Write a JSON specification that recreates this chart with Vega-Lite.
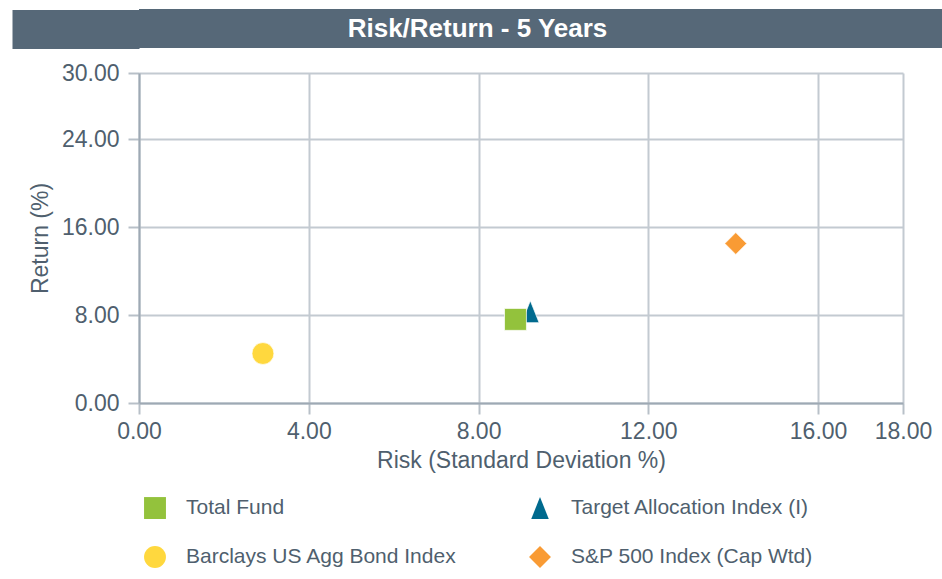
{
  "$schema": "https://vega.github.io/schema/vega-lite/v6.json",
  "background": "white",
  "padding": {"left": -8, "top": 9, "right": 0, "bottom": 0},
  "spacing": 13,
  "config": {
    "font": "Liberation Sans",
    "view": {"stroke": null}
  },
  "vconcat": [
    {
      "width": 803,
      "height": 39,
      "view": {"fill": "#566878", "stroke": null},
      "data": {"values": [{"title": "Risk/Return - 5 Years"}]},
      "mark": {"type": "text", "color": "white", "fontWeight": "bold", "fontSize": 26, "font": "Liberation Sans", "baseline": "middle", "align": "center", "dx": -63},
      "encoding": {
        "text": {"field": "title", "type": "nominal"},
        "y": {
          "field": "title", "type": "nominal",
          "scale": {"paddingInner": 0, "paddingOuter": 0},
          "axis": {"title": null, "labels": false, "domain": false, "ticks": true, "tickSize": 127, "tickWidth": 39, "tickColor": "#566878", "tickCap": "butt", "grid": false}
        }
      }
    },
    {
      "width": 764,
      "height": 330,
      "data": {
        "values": [
          {"name": "Target Allocation Index (I)", "risk": 9.22, "return": 8.3},
          {"name": "Total Fund", "risk": 8.87, "return": 7.6},
          {"name": "Barclays US Agg Bond Index", "risk": 2.92, "return": 4.5},
          {"name": "S&P 500 Index (Cap Wtd)", "risk": 14.06, "return": 14.5}
        ]
      },
      "mark": {"type": "point", "filled": true, "opacity": 1, "size": 480, "stroke": "white", "strokeWidth": 1, "strokeOpacity": 0.7},
      "encoding": {
        "x": {
          "field": "risk", "type": "quantitative",
          "scale": {"domain": [0, 18], "nice": false},
          "axis": {
            "values": [0, 4, 8, 12, 16, 18], "format": ".2f", "labelOverlap": false, "labelFlush": false,
            "title": "Risk (Standard Deviation %)",
            "titleFontSize": 23, "titleFontWeight": "normal", "titleColor": "#4f5f6e", "titlePadding": 6,
            "labelFontSize": 23, "labelColor": "#4f5f6e", "labelPadding": 6,
            "tickSize": 11, "tickColor": "#b8c0c8", "tickWidth": 2,
            "domainColor": "#9ea9b4", "domainWidth": 2,
            "gridColor": "#c3cad1", "gridWidth": 2
          }
        },
        "y": {
          "field": "return", "type": "quantitative",
          "scale": {"domain": [0, 30], "nice": false},
          "axis": {
            "values": [0, 8, 16, 24, 30], "format": ".2f", "labelOverlap": false, "labelFlush": false,
            "title": "Return (%)",
            "titleFontSize": 23, "titleFontWeight": "normal", "titleColor": "#4f5f6e", "titlePadding": 9,
            "labelFontSize": 23, "labelColor": "#4f5f6e", "labelPadding": 9,
            "tickSize": 11, "tickColor": "#b8c0c8", "tickWidth": 2,
            "domainColor": "#9ea9b4", "domainWidth": 2,
            "gridColor": "#c3cad1", "gridWidth": 2
          }
        },
        "color": {
          "field": "name", "type": "nominal",
          "scale": {
            "domain": ["Total Fund", "Target Allocation Index (I)", "Barclays US Agg Bond Index", "S&P 500 Index (Cap Wtd)"],
            "range": ["#93c23c", "#006a8e", "#ffd83e", "#f99b34"]
          },
          "legend": {
            "title": null, "orient": "bottom", "direction": "horizontal", "columns": 2,
            "labelFontSize": 21, "labelColor": "#4f5f6e", "labelOffset": 20, "labelLimit": 400,
            "symbolSize": 480, "symbolStrokeWidth": 0, "columnPadding": 72, "rowPadding": 27,
            "padding": 5, "offset": 20
          }
        },
        "shape": {
          "field": "name", "type": "nominal",
          "scale": {
            "domain": ["Total Fund", "Target Allocation Index (I)", "Barclays US Agg Bond Index", "S&P 500 Index (Cap Wtd)"],
            "range": ["square", "M0,-1L0.8,1L-0.8,1Z", "circle", "diamond"]
          },
          "legend": {
            "title": null, "orient": "bottom", "direction": "horizontal", "columns": 2,
            "labelFontSize": 21, "labelColor": "#4f5f6e", "labelOffset": 20, "labelLimit": 400,
            "symbolSize": 480, "symbolStrokeWidth": 0, "columnPadding": 72, "rowPadding": 27,
            "padding": 5, "offset": 20
          }
        }
      }
    }
  ]
}
